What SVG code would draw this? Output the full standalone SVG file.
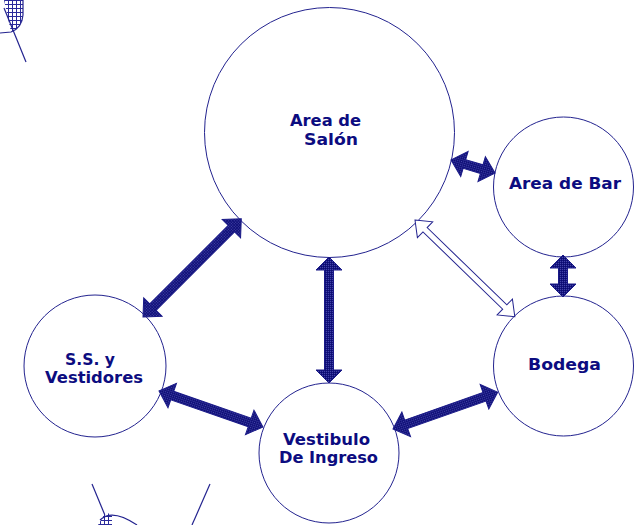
<svg xmlns="http://www.w3.org/2000/svg" width="639" height="525" viewBox="0 0 639 525">
<defs>
<pattern id="dots" width="2" height="2" patternUnits="userSpaceOnUse">
<rect width="2" height="2" fill="#14147e"/>
<rect width="1" height="1" fill="#4444a8"/>
<rect x="1" y="1" width="1" height="1" fill="#0c0c70"/>
</pattern>
<pattern id="grid" width="4" height="4" patternUnits="userSpaceOnUse">
<rect width="4" height="4" fill="#fff"/>
<path d="M0,0.5 H4 M0.5,0 V4" stroke="#2a2a9a" stroke-width="1"/>
</pattern>
</defs>
<style>
.node{fill:#fff;stroke:#23238f;stroke-width:1}
.lbl{font-family:"DejaVu Sans",sans-serif;font-size:16px;font-weight:bold;fill:#0c0c80}
.arr{fill:url(#dots);stroke:#1a1a88;stroke-width:1;stroke-linejoin:miter}
.hollow{fill:#fff;stroke:#23238f;stroke-width:1}
.deco{fill:none;stroke:#23238f;stroke-width:1.2}
</style>
<g id="decorations">
<path d="M4,0 L23,0 L23,15 Q22,28 11,32 Z" fill="url(#grid)"/>
<path class="deco" d="M0,33 L11,32 Q22,28 23,15 L23,0"/>
<line class="deco" x1="4" y1="8" x2="26" y2="62"/>
<line class="deco" x1="92" y1="484" x2="109" y2="525"/>
<line class="deco" x1="210" y1="484" x2="192" y2="525"/>
<path d="M98,525 L104,515 Q108,513 112,513 L112,525 Z" fill="url(#grid)"/>
<path class="deco" d="M100,520 Q112,508 137,525"/>
</g>
<g id="node-salon">
<circle class="node" cx="329.5" cy="132.5" r="125"/>
<text class="lbl" x="290" y="126" textLength="71" lengthAdjust="spacingAndGlyphs">Area de</text>
<text class="lbl" x="304" y="145" textLength="54" lengthAdjust="spacingAndGlyphs">Salón</text>
</g>
<g id="node-bar">
<circle class="node" cx="563.5" cy="187" r="70"/>
<text class="lbl" x="509" y="189" textLength="112" lengthAdjust="spacingAndGlyphs">Area de Bar</text>
</g>
<g id="node-bodega">
<circle class="node" cx="563.5" cy="366" r="70"/>
<text class="lbl" x="528" y="370" textLength="73" lengthAdjust="spacingAndGlyphs">Bodega</text>
</g>
<g id="node-ss">
<circle class="node" cx="95" cy="366" r="71"/>
<text class="lbl" x="65" y="365" textLength="50" lengthAdjust="spacingAndGlyphs">S.S. y</text>
<text class="lbl" x="45" y="383" textLength="98" lengthAdjust="spacingAndGlyphs">Vestidores</text>
</g>
<g id="node-vestibulo">
<circle class="node" cx="329" cy="453" r="70"/>
<text class="lbl" x="283" y="445" textLength="87" lengthAdjust="spacingAndGlyphs">Vestibulo</text>
<text class="lbl" x="279" y="463" textLength="99" lengthAdjust="spacingAndGlyphs">De Ingreso</text>
</g>
<g id="connectors">
<polygon class="arr" transform="translate(451,160) rotate(16.5)" points="0,0 14,-13 14,-4.5 32,-4.5 32,-13 46,0 32,13 32,4.5 14,4.5 14,13"/>
<polygon class="arr" transform="translate(143,317) rotate(-45)" points="0,0 14,-13 14,-4.5 125,-4.5 125,-13 139,0 125,13 125,4.5 14,4.5 14,13"/>
<polygon class="arr" transform="translate(329,257) rotate(90)" points="0,0 13,-13 13,-4.5 113,-4.5 113,-13 126,0 113,13 113,4.5 13,4.5 13,13"/>
<polygon class="arr" transform="translate(563,255) rotate(90)" points="0,0 13,-13 13,-4.5 29,-4.5 29,-13 42,0 29,13 29,4.5 13,4.5 13,13"/>
<polygon class="arr" transform="translate(159,391) rotate(19.1)" points="0,0 14,-13 14,-4.5 96,-4.5 96,-13 110,0 96,13 96,4.5 14,4.5 14,13"/>
<polygon class="arr" transform="translate(393,429) rotate(-19.4)" points="0,0 14,-13 14,-4.5 97,-4.5 97,-13 111,0 97,13 97,4.5 14,4.5 14,13"/>
<polygon class="hollow" transform="translate(415,220) rotate(44.1)" points="0,0 14,-11 14,-3 125,-3 125,-11 139,0 125,11 125,3 14,3 14,11"/>
</g>
</svg>
